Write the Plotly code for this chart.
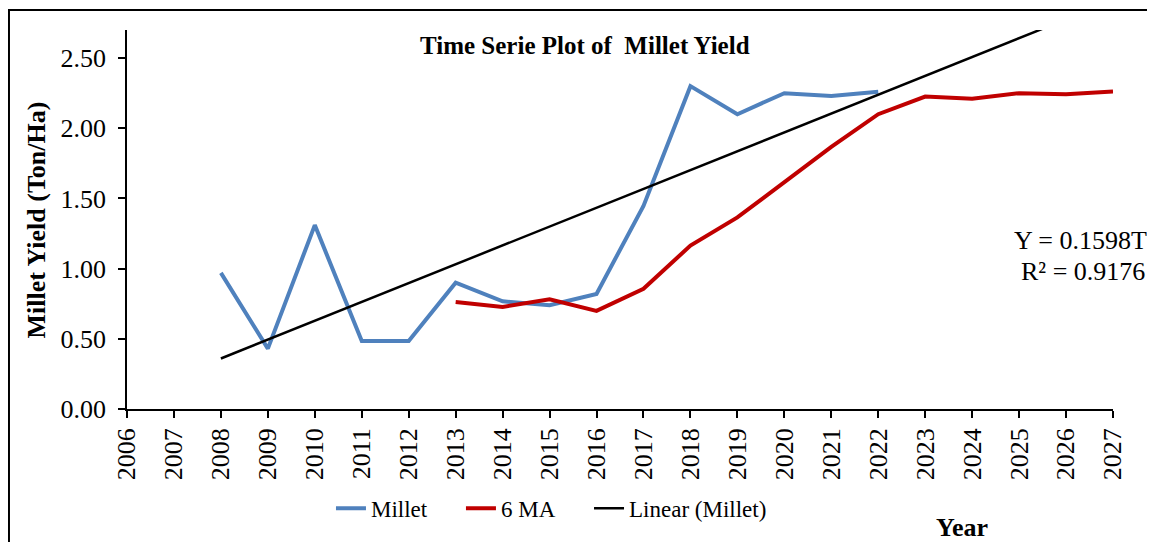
import numpy as np
import plotly.graph_objects as go

years = [str(y) for y in range(2006, 2028)]
millet_years = [str(y) for y in range(2008, 2023)]
millet = [0.97, 0.43, 1.31, 0.485, 0.485, 0.90, 0.767, 0.739, 0.82, 1.447,
          2.30, 2.10, 2.25, 2.23, 2.26]
ma_years = [str(y) for y in range(2013, 2028)]
ma6 = [0.763, 0.727, 0.781, 0.699, 0.857, 1.164, 1.365, 1.62, 1.868, 2.10,
       2.226, 2.21, 2.25, 2.243, 2.262]

# Linear trendline (least squares on Millet), forecast forward to 2027
t = np.arange(1, len(millet) + 1)
slope, intercept = np.polyfit(t, millet, 1)
trend_years = [str(y) for y in range(2008, 2028)]
trend_t = np.arange(1, len(trend_years) + 1)
trend = slope * trend_t + intercept

FONT = "Liberation Serif"
PAD = "\u00a0" * 5

fig = go.Figure()
fig.add_trace(go.Scatter(x=millet_years, y=millet, mode="lines", name="Millet" + PAD,
                         line=dict(color="#4F81BD", width=4)))
fig.add_trace(go.Scatter(x=ma_years, y=ma6, mode="lines", name="6 MA" + PAD,
                         line=dict(color="#C00000", width=4)))
fig.add_trace(go.Scatter(x=trend_years, y=trend, mode="lines", name="Linear (Millet)",
                         line=dict(color="#000000", width=2.5)))

# page has an 8px body margin; figure sized so plot area matches the reference
fig.update_layout(
    width=1147, height=534,
    margin=dict(l=119, r=42, t=22, b=131),
    paper_bgcolor="white", plot_bgcolor="white",
    font=dict(family=FONT, color="black", size=26),
    showlegend=True,
    legend=dict(orientation="h", x=0.4305, xanchor="center", y=-0.262, yanchor="middle",
                font=dict(family=FONT, size=23, color="black"),
                bgcolor="rgba(0,0,0,0)", traceorder="normal"),
    xaxis=dict(type="category", categoryorder="array", categoryarray=years,
               range=[0, 21], showline=True, linecolor="black", linewidth=1.5,
               ticks="outside", ticklen=7, tickcolor="black", tickwidth=1.5,
               tickangle=-90, showgrid=False, zeroline=False,
               tickfont=dict(family=FONT, size=26, color="black"),
               automargin=False),
    yaxis=dict(range=[0, 2.7], dtick=0.5, tick0=0, tickformat=".2f",
               showline=True, linecolor="black", linewidth=1.5,
               ticks="outside", ticklen=7, tickcolor="black", tickwidth=1.5,
               showgrid=False, zeroline=False, ticklabelstandoff=7,
               tickfont=dict(family=FONT, size=26, color="black"),
               automargin=False),
)

fig.add_shape(type="rect", xref="paper", yref="paper",
              x0=-0.1197, x1=1.2, y0=-0.6, y1=1.0525,
              line=dict(color="black", width=2), fillcolor="rgba(0,0,0,0)", layer="below")

fig.add_annotation(text="<b>Time Serie Plot of\u00a0 Millet Yield</b>", xref="paper", yref="paper",
                   x=0.4645, y=0.958, xanchor="center", yanchor="middle", showarrow=False,
                   font=dict(family=FONT, size=25, color="black"))
fig.add_annotation(text="<b>Millet Yield (Ton/Ha)</b>", xref="paper", yref="paper",
                   x=-0.0913, y=0.50, xanchor="center", yanchor="middle", showarrow=False,
                   textangle=-90, font=dict(family=FONT, size=26, color="black"))
fig.add_annotation(text="<b>Year</b>", xref="paper", yref="paper",
                   x=0.847, y=-0.312, xanchor="center", yanchor="middle", showarrow=False,
                   font=dict(family=FONT, size=26, color="black"))
fig.add_annotation(text="Y = 0.1598T", xref="paper", yref="paper",
                   x=1.0365, y=0.4436, xanchor="right", yanchor="middle", align="right",
                   showarrow=False, font=dict(family=FONT, size=26, color="black"))
fig.add_annotation(text="R² = 0.9176", xref="paper", yref="paper",
                   x=1.034, y=0.362, xanchor="right", yanchor="middle", align="right",
                   showarrow=False, font=dict(family=FONT, size=26, color="black"))

fig.write_html("out.html")
